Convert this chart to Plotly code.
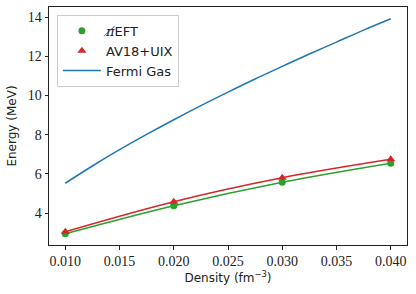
import plotly.graph_objects as go

density = [0.010, 0.020, 0.030, 0.040]
eft_energy = [2.94, 4.37, 5.57, 6.54]
av18_energy = [3.05, 4.58, 5.80, 6.74]

fg_density = [0.010, 0.0125, 0.015, 0.0175, 0.020, 0.0225, 0.025, 0.0275,
              0.030, 0.0325, 0.035, 0.0375, 0.040]
fg_energy = [5.52, 6.40, 7.23, 8.01, 8.76, 9.48, 10.17, 10.84,
             11.48, 12.11, 12.72, 13.33, 13.91]

xticks = [0.010, 0.015, 0.020, 0.025, 0.030, 0.035, 0.040]
xticklabels = ["0.010", "0.015", "0.020", "0.025", "0.030", "0.035", "0.040"]
yticks = [4, 6, 8, 10, 12, 14]

GREEN = "#2ca02c"
RED = "#d62728"
BLUE = "#1f77b4"

fig = go.Figure()
fig.add_trace(go.Scatter(x=density, y=eft_energy, mode="lines", line=dict(color=GREEN, width=1.5, shape="spline"),
                         showlegend=False, hoverinfo="skip"))
fig.add_trace(go.Scatter(x=density, y=av18_energy, mode="lines", line=dict(color=RED, width=1.5, shape="spline"),
                         showlegend=False, hoverinfo="skip"))
fig.add_trace(go.Scatter(x=density, y=eft_energy, mode="markers",
                         name="<span style='font-family:DejaVu Serif'><i>π\u0338</i></span>EFT", legendgroup="a",
                         marker=dict(color=GREEN, size=7, symbol="circle")))
fig.add_trace(go.Scatter(x=density, y=av18_energy, mode="markers", name="AV18+UIX", legendgroup="b",
                         marker=dict(color=RED, size=8, symbol="triangle-up")))
fig.add_trace(go.Scatter(x=fg_density, y=fg_energy, mode="lines", name="Fermi Gas", legendgroup="c",
                         line=dict(color=BLUE, width=1.5, shape="spline")))

axis_common = dict(showline=True, linecolor="#222", linewidth=1, mirror=True, ticks="outside",
                   ticklen=3.5, tickcolor="#222", showgrid=False, zeroline=False, automargin=False,
                   tickfont=dict(family="Liberation Serif, serif", size=14, color="#222"))

fig.update_layout(
    width=416, height=294,
    margin=dict(l=49, r=9, t=7, b=49),
    paper_bgcolor="white", plot_bgcolor="white",
    font=dict(family="DejaVu Sans, sans-serif", size=12, color="#222"),
    xaxis=dict(range=[0.0085, 0.0415], tickvals=xticks, ticktext=xticklabels,
               title=dict(text="Density (fm<sup>−3</sup>)", standoff=4, font=dict(size=12)), **axis_common),
    yaxis=dict(range=[2.37, 14.51], tickvals=yticks,
               title=dict(text="Energy (MeV)", standoff=8, font=dict(size=12)), **axis_common),
    legend=dict(x=0.022, y=0.967, xanchor="left", yanchor="top", bgcolor="rgba(255,255,255,0.8)",
                bordercolor="#ccc", borderwidth=1, font=dict(size=13), itemwidth=38,
                tracegroupgap=0),
)

fig.write_html("out.html", config={"displayModeBar": False},
               post_script="document.body.style.margin='0';")
